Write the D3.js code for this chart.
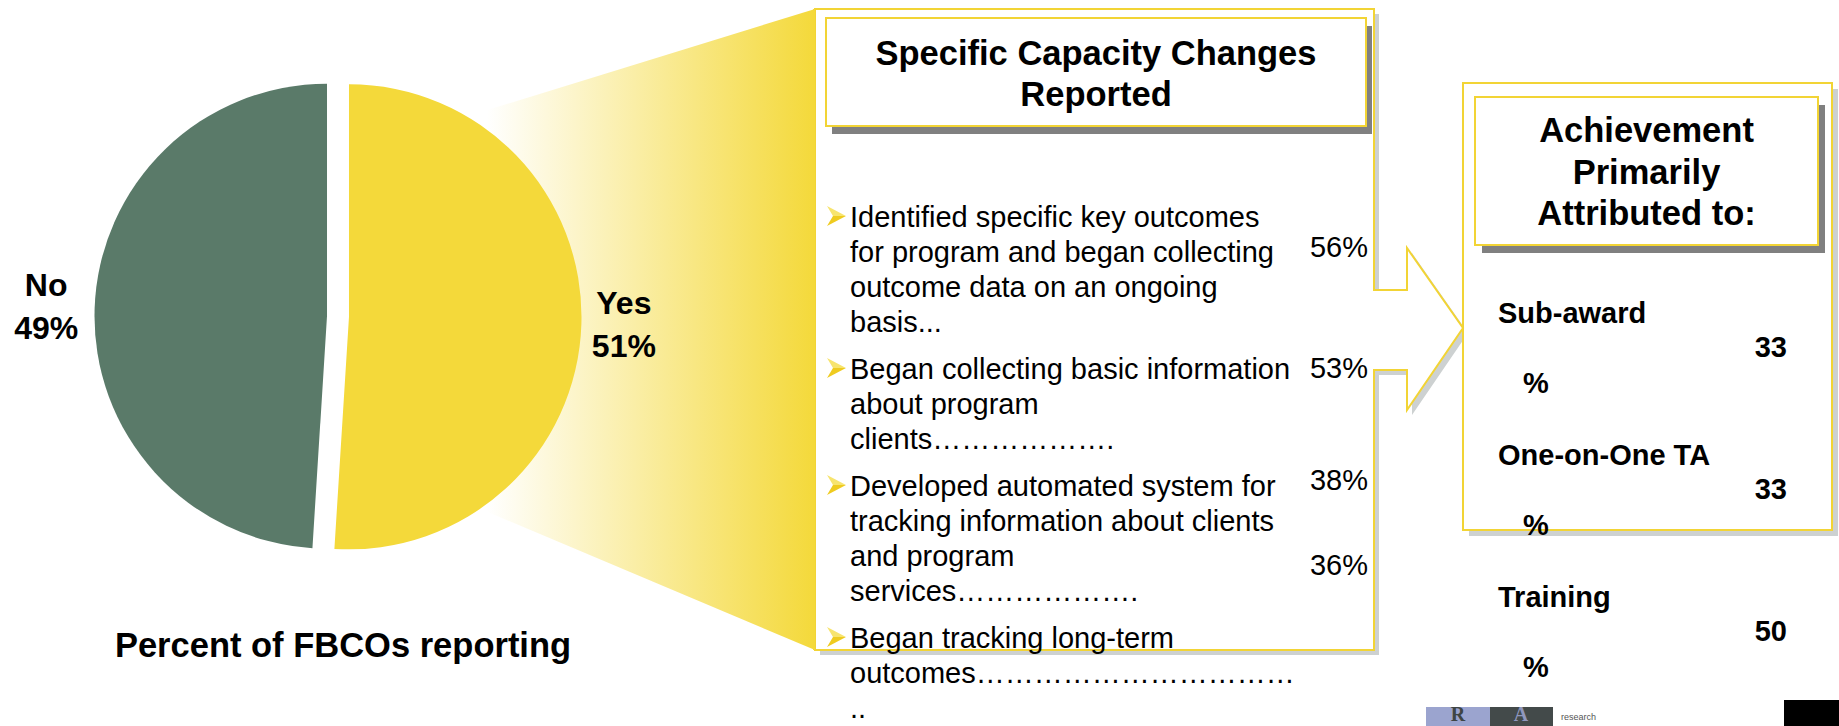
<!DOCTYPE html>
<html>
<head>
<meta charset="utf-8">
<script src="https://cdn.jsdelivr.net/npm/d3@7"></script>
<style>
  body { margin: 0; background: #fff; }
  svg { display: block; font-family: "Liberation Sans", Arial, sans-serif; }
</style>
</head>
<body>
<div id="chart"></div>
<script>
// Pie data
var pieLabels = ["Yes", "No"];
var pieValues = [51, 49];
var pieTitle = "Percent of FBCOs reporting";

// Specific capacity changes
var changesTitle = ["Specific Capacity Changes", "Reported"];
var changeItems = [
  ["Identified specific key outcomes", "for program and began collecting", "outcome data on an ongoing", "basis..."],
  ["Began collecting basic information", "about program", "clients\u2026\u2026\u2026\u2026\u2026\u2026."],
  ["Developed automated system for", "tracking information about clients", "and program", "services\u2026\u2026\u2026\u2026\u2026\u2026."],
  ["Began tracking long-term", "outcomes\u2026\u2026\u2026\u2026\u2026\u2026\u2026\u2026\u2026\u2026\u2026", ".."]
];
var changeValues = [56, 53, 38, 36];

// Attribution
var attribTitle = ["Achievement", "Primarily", "Attributed to:"];
var attribLabels = ["Sub-award", "One-on-One TA", "Training"];
var attribValues = [33, 33, 50];

var svgWidth = 1839;
var svgHeight = 726;

var yellow = "#F4D93A";
var green = "#5A7A69";
var border = "#F2D435";

var svg = d3.select("#chart")
  .append("svg")
  .attr("width", svgWidth)
  .attr("height", svgHeight);

var defs = svg.append("defs");
var grad = defs.append("linearGradient")
  .attr("id", "fade")
  .attr("gradientUnits", "userSpaceOnUse")
  .attr("x1", 487).attr("x2", 815).attr("y1", 0).attr("y2", 0);
grad.append("stop").attr("offset", 0).attr("stop-color", "#ffffff");
grad.append("stop").attr("offset", 1).attr("stop-color", yellow);

// fade wedge from the pie to the box
svg.append("polygon")
  .attr("points", "400,137 815,9 815,650 400,475")
  .attr("fill", "url(#fade)");

// ---- pie ----
var cx = 338, cy = 316.5, radius = 232.5, explode = 11;
var pie = d3.pie().sort(null).startAngle(0).endAngle(2 * Math.PI);
var arc = d3.arc().innerRadius(0).outerRadius(radius);
var labelArc = d3.arc().innerRadius(277).outerRadius(277);
var colors = d3.scaleOrdinal().domain(pieLabels).range([yellow, green]);

var pieG = svg.append("g").attr("transform", `translate(${cx}, ${cy})`);
var slices = pie(pieValues);

pieG.selectAll("path")
  .data(slices)
  .enter()
  .append("path")
  .attr("d", arc)
  .attr("fill", (d, i) => colors(pieLabels[i]))
  .attr("transform", function(d) {
    var mid = (d.startAngle + d.endAngle) / 2;
    return `translate(${explode * Math.sin(mid)}, ${-explode * Math.cos(mid)})`;
  });

var pieText = pieG.selectAll(".pielabel")
  .data(slices)
  .enter()
  .append("text")
  .attr("class", "pielabel")
  .attr("transform", function(d, i) {
    var c = labelArc.centroid(d);
    var mid = (d.startAngle + d.endAngle) / 2;
    var shift = i === 0 ? -2 : -4;
    return `translate(${c[0] + explode * Math.sin(mid) + shift}, ${c[1]})`;
  })
  .attr("text-anchor", "middle")
  .attr("font-weight", "bold")
  .attr("font-size", 32)
  .attr("fill", "#000");
pieText.append("tspan").attr("x", 0).attr("y", -11.5).text((d, i) => pieLabels[i]);
pieText.append("tspan").attr("x", 0).attr("y", 31.5).text((d, i) => pieValues[i] + "%");

svg.append("text")
  .attr("x", 343)
  .attr("y", 657)
  .attr("text-anchor", "middle")
  .attr("font-weight", "bold")
  .attr("font-size", 34.5)
  .text(pieTitle);

// ---- boxes ----
var bigShape = "M815,9 L1374,9 L1374,290 L1407,290 L1407,248 L1463,328 L1407,410 L1407,370 L1374,370 L1374,650 L815,650 Z";

svg.append("path").attr("d", bigShape)
  .attr("transform", "translate(5,5)")
  .attr("fill", "#CDD1D1");
svg.append("rect")
  .attr("x", 1469).attr("y", 89).attr("width", 369).attr("height", 447)
  .attr("fill", "#CDD1D1");
svg.append("rect")
  .attr("x", 1463).attr("y", 83).attr("width", 369).attr("height", 447)
  .attr("fill", "#fff").attr("stroke", border).attr("stroke-width", 2);
svg.append("path").attr("d", bigShape)
  .attr("fill", "#fff").attr("stroke", border).attr("stroke-width", 2);
// yellow edge on the left of big box
svg.append("line")
  .attr("x1", 814).attr("x2", 814).attr("y1", 9).attr("y2", 650)
  .attr("stroke", yellow).attr("stroke-width", 2);

function titleBox(x, y, w, h, dx, dy, lines, firstBase, step) {
  svg.append("rect")
    .attr("x", x + dx).attr("y", y + dy).attr("width", w).attr("height", h)
    .attr("fill", "#808080");
  svg.append("rect")
    .attr("x", x).attr("y", y).attr("width", w).attr("height", h)
    .attr("fill", "#fff").attr("stroke", border).attr("stroke-width", 2);
  var t = svg.append("text")
    .attr("text-anchor", "middle")
    .attr("font-weight", "bold")
    .attr("font-size", 34.5);
  lines.forEach(function(line, i) {
    t.append("tspan")
      .attr("x", x + w / 2)
      .attr("y", firstBase + i * step)
      .text(line);
  });
}

titleBox(826, 18, 540, 108, 6, 8, changesTitle, 64.5, 41);
titleBox(1475, 97, 343, 148, 7, 8, attribTitle, 142, 41.5);

// ---- bullet list ----
var lineHeight = 35, paraGap = 12, textX = 850;
var lineY = [];
var yPos = 227;
changeItems.forEach(function(lines) {
  lineY.push(yPos);
  yPos += lines.length * lineHeight + paraGap;
});

function bullet(x, y) {
  var g = svg.append("g").attr("transform", `translate(${x}, ${y})`);
  g.append("path").attr("d", "M0,-20 L19,-10 L6,-10 Z").attr("fill", "#F7E46E");
  g.append("path").attr("d", "M6,-10 L19,-10 L0,0 Z").attr("fill", "#EFCB1F");
}

var items = svg.selectAll(".item")
  .data(changeItems)
  .enter()
  .append("g")
  .attr("class", "item");

items.each(function(lines, i) {
  bullet(827, lineY[i] - 1);
});

items.append("text")
  .attr("font-size", 29)
  .attr("fill", "#000")
  .each(function(lines, i) {
    var t = d3.select(this);
    lines.forEach(function(line, j) {
      t.append("tspan")
        .attr("x", textX)
        .attr("y", lineY[i] + j * lineHeight)
        .text(line);
    });
  });

// percentages sit loosely beside the items
var valueNudge = [30, -1, -6, -73];
svg.selectAll(".pct")
  .data(changeValues)
  .enter()
  .append("text")
  .attr("class", "pct")
  .attr("x", 1368)
  .attr("y", (d, i) => lineY[i] + valueNudge[i])
  .attr("text-anchor", "end")
  .attr("font-size", 29)
  .text(d => d + "%");

// ---- attribution list ----
var attrY = d3.scalePoint().domain(attribLabels).range([323, 607]);

var attr = svg.selectAll(".attr")
  .data(attribLabels)
  .enter()
  .append("g")
  .attr("class", "attr")
  .attr("font-weight", "bold")
  .attr("font-size", 29);

attr.append("text")
  .attr("x", 1498)
  .attr("y", d => attrY(d))
  .text(d => d);
attr.append("text")
  .attr("x", 1787)
  .attr("y", d => attrY(d) + 34)
  .attr("text-anchor", "end")
  .text((d, i) => attribValues[i]);
attr.append("text")
  .attr("x", 1523)
  .attr("y", d => attrY(d) + 70)
  .text("%");

// ---- logos at the bottom ----
svg.append("rect").attr("x", 1426).attr("y", 707).attr("width", 64).attr("height", 19).attr("fill", "#9BA4CF");
svg.append("rect").attr("x", 1490).attr("y", 707).attr("width", 63).attr("height", 19).attr("fill", "#434A4A");
svg.append("text").attr("x", 1458).attr("y", 721).attr("text-anchor", "middle")
  .attr("font-family", "Liberation Serif, serif").attr("font-weight", "bold")
  .attr("font-size", 20).attr("fill", "#3E4545").text("R");
svg.append("text").attr("x", 1521).attr("y", 721).attr("text-anchor", "middle")
  .attr("font-family", "Liberation Serif, serif").attr("font-weight", "bold")
  .attr("font-size", 20).attr("fill", "#8F97BE").text("A");
svg.append("text").attr("x", 1561).attr("y", 720)
  .attr("font-size", 9).attr("fill", "#555").text("research");
svg.append("rect").attr("x", 1784).attr("y", 700).attr("width", 55).attr("height", 26).attr("fill", "#000");
</script>
</body>
</html>
